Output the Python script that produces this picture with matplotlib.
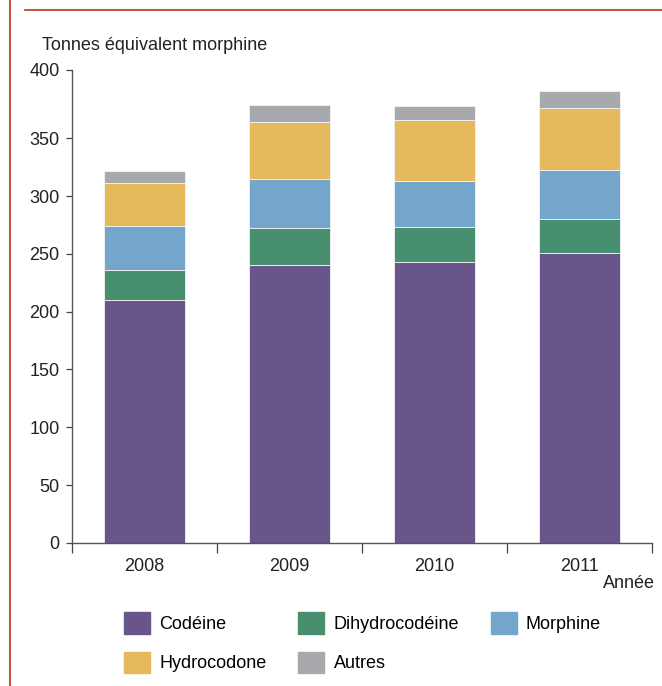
import matplotlib
matplotlib.use('Agg')
import matplotlib.pyplot as plt
from matplotlib.lines import Line2D
from matplotlib.patches import Patch
import numpy as np

plt.rcParams['font.family'] = ['Liberation Sans Narrow', 'Liberation Sans', 'DejaVu Sans']

years = ['2008', '2009', '2010', '2011']
codeine = [210, 240.5, 243, 251]
dihydrocodeine = [26, 32, 30, 29.5]
morphine = [38.5, 42, 40, 42]
hydrocodone = [36.5, 49.5, 53, 54]
autres = [11, 14.5, 11.5, 14]

series = [
    ('Codéine', codeine, '#68568a'),
    ('Dihydrocodéine', dihydrocodeine, '#478f6f'),
    ('Morphine', morphine, '#74a6cc'),
    ('Hydrocodone', hydrocodone, '#e6b95d'),
    ('Autres', autres, '#a8a9ad'),
]

# the source axis tops out a bit above 400, with the last tick labelled 400
ytick_pos = [0, 50, 100, 150, 200, 250, 300, 350, 409]
ytick_lab = ['0', '50', '100', '150', '200', '250', '300', '350', '400']

fig = plt.figure(figsize=(6.62, 6.86), dpi=100)
ax = fig.add_axes([0.1088, 0.2085, 0.8762, 0.6895])

x = np.arange(len(years))
bottom = np.zeros(len(years))
for name, vals, col in series:
    ax.bar(x, vals, 0.555, bottom=bottom, color=col, edgecolor='#f4f4f6', linewidth=0.6, label=name)
    bottom += np.array(vals)

ax.set_xlim(-0.5, 3.5)
ax.set_ylim(0, 409)
ax.set_yticks(ytick_pos)
ax.set_yticklabels(ytick_lab)
ax.set_xticks(x)
ax.set_xticklabels(years)
ax.set_xticks(np.arange(-0.5, 4, 1), minor=True)
fs = 13
ax.tick_params(axis='x', which='major', length=0, pad=11, labelsize=fs, colors='#222222')
ax.tick_params(axis='x', which='minor', length=7, width=0.9, color='#444444')
ax.tick_params(axis='y', length=4, width=0.9, pad=5, labelsize=fs, colors='#222222')
ax.tick_params(axis='y', color='#444444')

for s in ['top', 'right']:
    ax.spines[s].set_visible(False)
for s in ['left', 'bottom']:
    ax.spines[s].set_color('#555555')
    ax.spines[s].set_linewidth(1.0)

fig.text(42 / 662, 1 - 46 / 686, 'Tonnes équivalent morphine', fontsize=fs, color='#222222', va='center', ha='left')
fig.text(655 / 662, 1 - 584 / 686, 'Année', fontsize=fs, color='#222222', va='center', ha='right')

handles = [Patch(color=c) for _, _, c in series]
labels = [n for n, _, _ in series]
order = [0, 3, 1, 4, 2]
fig.legend([handles[i] for i in order], [labels[i] for i in order], ncol=3,
           loc='upper left', bbox_to_anchor=(108 / 662, 1 - 596 / 686),
           frameon=False, fontsize=fs, handlelength=1.45, handleheight=1.45,
           handletextpad=0.5, columnspacing=1.75, labelspacing=1.0)

# frame lines of the source page
red = '#b5381c'
fig.add_artist(Line2D([9.5 / 662, 9.5 / 662], [0, 1], color=red, linewidth=1.2))
fig.add_artist(Line2D([25 / 662, 1], [1 - 10 / 686, 1 - 10 / 686], color=red, linewidth=1.2))

fig.savefig('out.png', dpi=100)
